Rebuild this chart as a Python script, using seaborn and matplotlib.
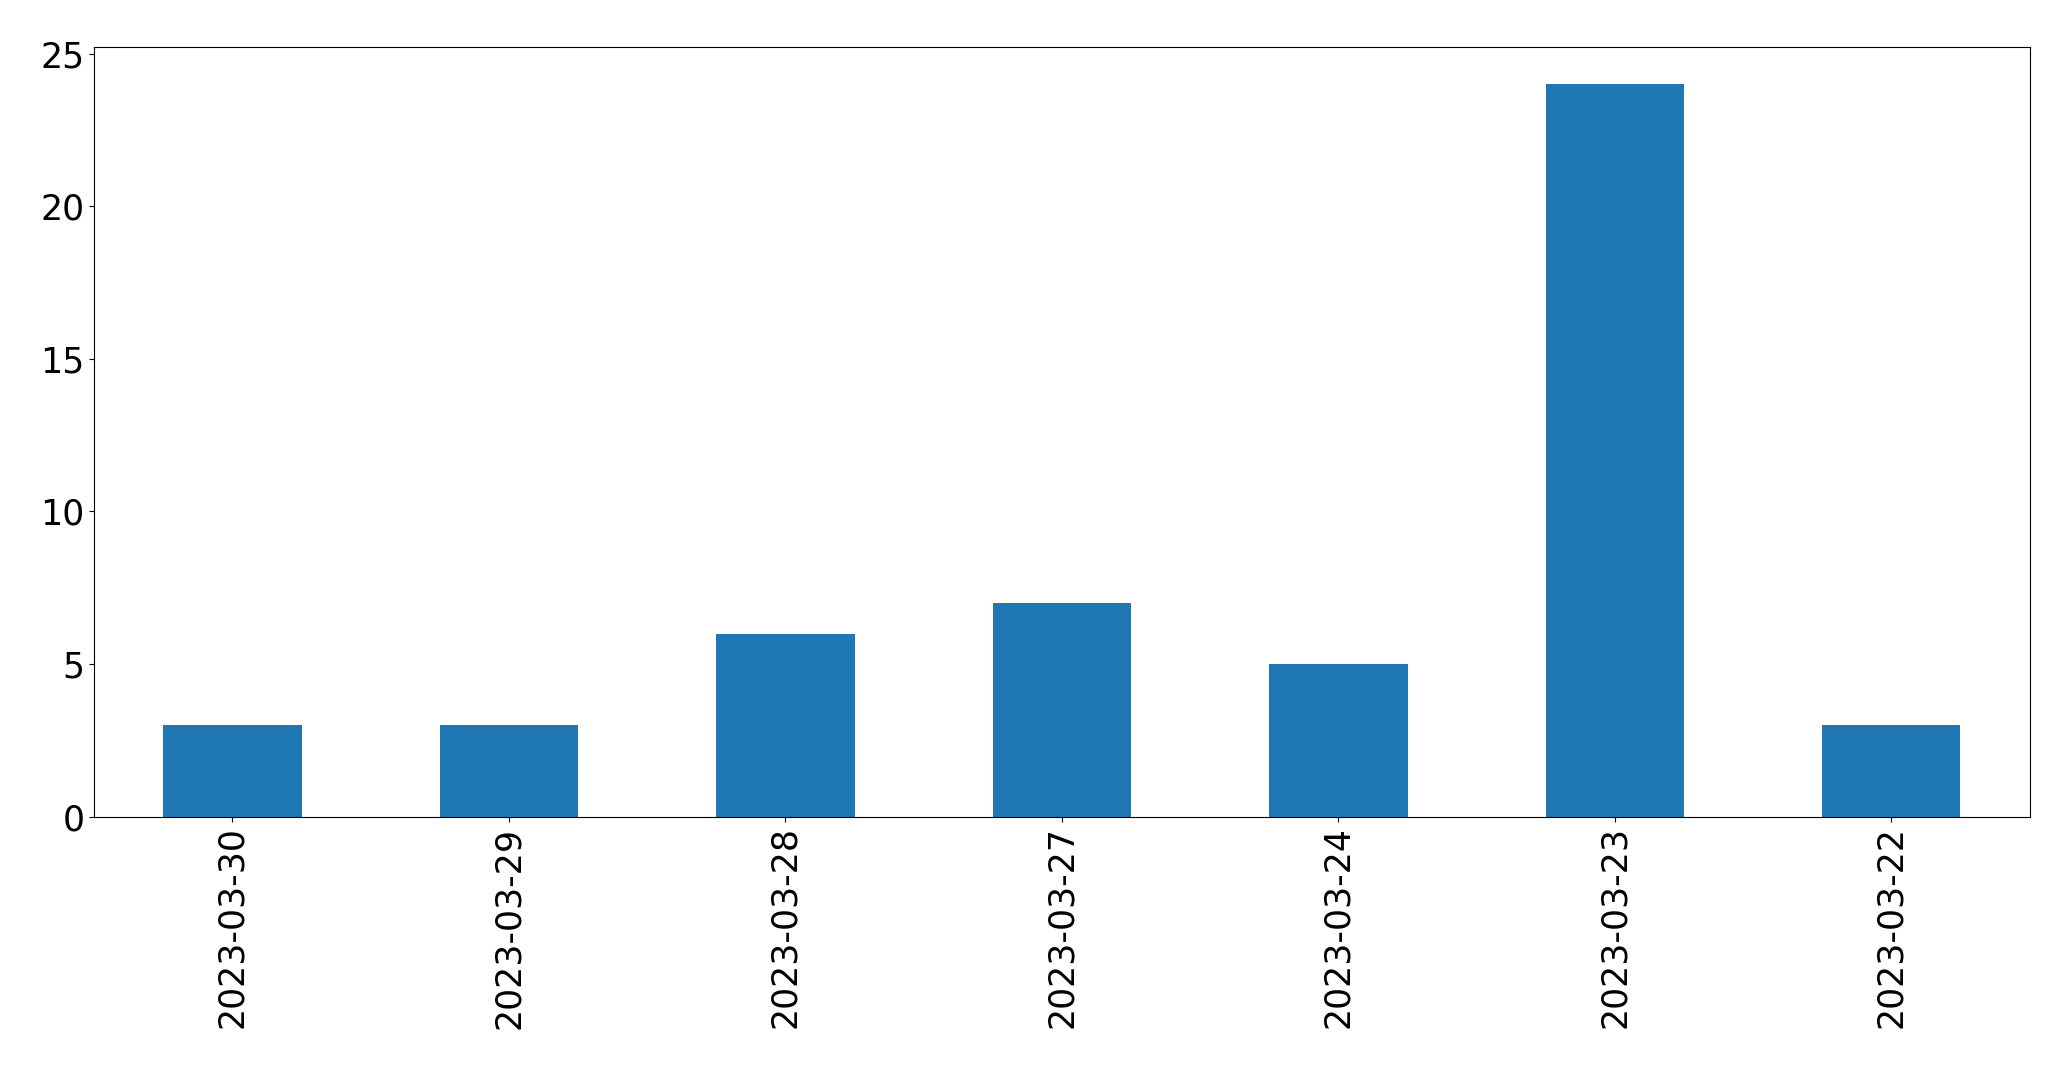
import matplotlib
matplotlib.use("Agg")
import matplotlib.pyplot as plt
import seaborn as sns
import pandas as pd

dates = ["2023-03-30", "2023-03-29", "2023-03-28", "2023-03-27", "2023-03-24", "2023-03-23", "2023-03-22"]
counts = [3, 3, 6, 7, 5, 24, 3]

df = pd.DataFrame({"date": dates, "count": counts})

plt.rcParams["font.family"] = ["DejaVu Sans"]
fig, ax = plt.subplots(figsize=(20.71, 10.69), dpi=100)
fig.subplots_adjust(left=0.0455, right=0.980, top=0.9556, bottom=0.2360)

sns.barplot(data=df, x="date", y="count", order=dates, color="#1f77b4",
            saturation=1, width=0.5, ax=ax)
ax.set_xlim(-0.5, len(dates) - 0.5)
ax.set_ylim(0, max(counts) * 1.05)
ax.set_xlabel("")
ax.set_ylabel("")
ax.tick_params(axis="both", labelsize=25)
ax.tick_params(axis="x", labelrotation=90)
for s in ax.spines.values():
    s.set_visible(True)
    s.set_color("black")

fig.savefig("out.png", dpi=100)
